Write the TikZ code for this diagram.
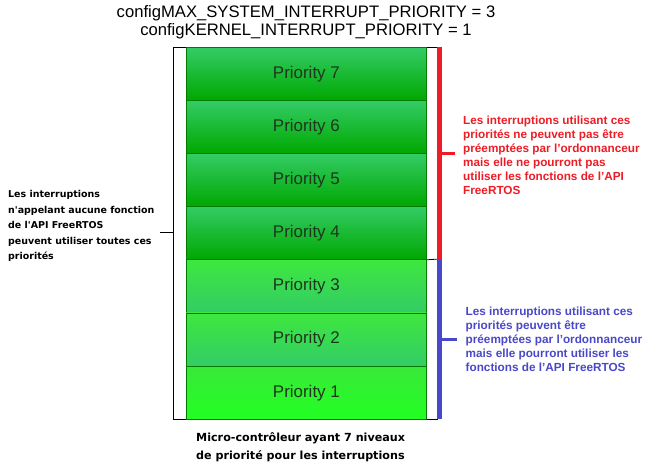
\documentclass[tikz,border=0pt]{standalone}
\usepackage{fontspec}
\setmainfont{Liberation Sans}
\newfontfamily\comicfont{DejaVu Sans}
\newcommand{\apos}{{\char39}}
\definecolor{redtxt}{HTML}{EE1C25}
\definecolor{bluetxt}{HTML}{4848C8}
\definecolor{gtopA}{HTML}{33CC66}
\definecolor{gbotA}{HTML}{00A800}
\definecolor{gtopB}{HTML}{3EE83E}
\definecolor{gbotB}{HTML}{33CC66}
\definecolor{gtopC}{HTML}{3AE83A}
\definecolor{gbotC}{HTML}{22FF22}
\definecolor{gborder}{HTML}{007A00}
\definecolor{prtxt}{HTML}{1E361E}
\begin{document}
\begin{tikzpicture}[x=1bp,y=-1bp,
  prio/.style={draw=gborder,line width=0.8bp,minimum width=240bp,minimum height=53bp,
    inner sep=0pt,anchor=north west,text=prtxt,font=\fontsize{17}{17}\selectfont},
  hiA/.style={prio,top color=gtopA,bottom color=gbotA},
  loB/.style={prio,top color=gtopB,bottom color=gbotB},
  loC/.style={prio,top color=gtopC,bottom color=gbotC},
  comic/.style={font=\comicfont\bfseries\fontsize{9.5}{15.5}\selectfont,align=left,inner sep=0pt},
  note/.style={font=\bfseries\fontsize{11.8}{14}\selectfont,align=left,inner sep=0pt},
  bar/.style={line width=4.5bp},
  tick/.style={line width=3bp}]
\useasboundingbox (0,0) rectangle (652,472);
\node[font=\fontsize{16.7}{18}\selectfont,align=center,inner sep=0pt] (title) at (306,22)
  {configMAX\_SYSTEM\_INTERRUPT\_PRIORITY = 3\\configKERNEL\_INTERRUPT\_PRIORITY = 1};
\node[draw=black,line width=0.8bp,minimum width=264bp,minimum height=372bp,inner sep=0pt,anchor=north west] (frame) at (173,47) {};
\node[hiA] (p7) at (186,47) {Priority 7};
\node[hiA] (p6) at (186,100) {Priority 6};
\node[hiA] (p5) at (186,153) {Priority 5};
\node[hiA] (p4) at (186,206) {Priority 4};
\node[loB] (p3) at (186,259) {Priority 3};
\node[loB] (p2) at (186,312.5) {Priority 2};
\node[loC] (p1) at (186,366) {Priority 1};
\coordinate (rtop) at (439.5,47);
\coordinate (mid) at (439.5,259);
\coordinate (bbot) at (439.5,419);
\coordinate (rt) at (439.5,153.5);
\coordinate (bt) at (439.5,339.5);
\draw[line width=0.8bp] (p4.south east) -- (mid);
\draw[bar,redtxt] (rtop) -- (mid);
\draw[bar,bluetxt] (mid) -- (bbot);
\node[note,text=redtxt,anchor=west] (rnote) at (463,155)
  {Les interruptions utilisant ces\\priorités ne peuvent pas être\\préemptées par l\apos ordonnanceur\\mais elle ne pourront pas\\utiliser les fonctions de l\apos API\\FreeRTOS};
\node[note,text=bluetxt,anchor=west] (bnote) at (465.5,339)
  {Les interruptions utilisant ces\\priorités peuvent être\\préemptées par l\apos ordonnanceur\\mais elle pourront utiliser les\\fonctions de l\apos API FreeRTOS};
\coordinate (rte) at (455,153.5);
\coordinate (bte) at (456.5,339.5);
\draw[tick,redtxt] (rt) -- (rte);
\draw[tick,bluetxt] (bt) -- (bte);
\node[comic,anchor=west] (lnote) at (8,226)
  {Les interruptions\\n\apos appelant aucune fonction\\de l\apos API FreeRTOS\\peuvent utiliser toutes ces\\priorités};
\coordinate (lt) at (160,232.5);
\draw[line width=0.8bp] (lt) -- (frame.west |- lt);
\node[comic,anchor=north west,font=\comicfont\bfseries\fontsize{11.2}{18}\selectfont] (bottom) at (196,432)
  {Micro-contrôleur ayant 7 niveaux\\de priorité pour les interruptions};
\end{tikzpicture}
\end{document}
